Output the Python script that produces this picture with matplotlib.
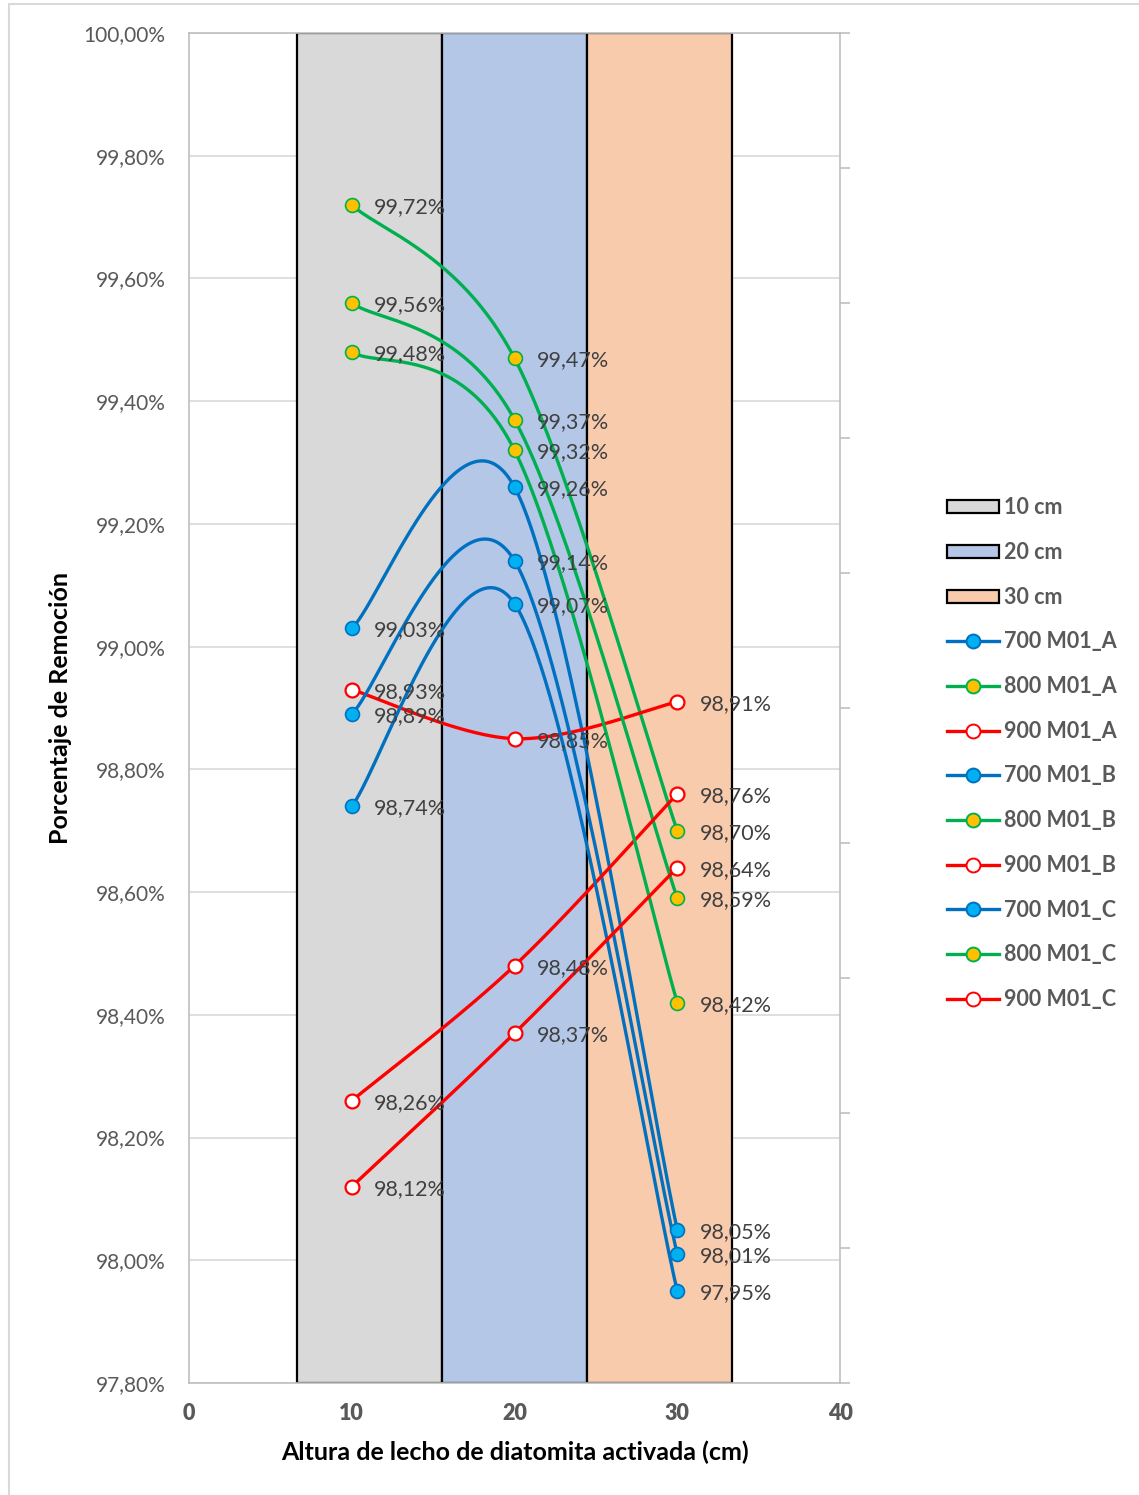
import numpy as np
import matplotlib.pyplot as plt
from matplotlib.patches import Patch, Rectangle
from matplotlib.lines import Line2D
from matplotlib.ticker import FuncFormatter, MultipleLocator

plt.rcParams['font.family'] = ['Lato', 'DejaVu Sans']

# bed heights (cm) and removal percentages per sample
altura = [10, 20, 30]
r700_A = [99.03, 99.26, 98.05]
r800_A = [99.72, 99.47, 98.70]
r900_A = [98.93, 98.85, 98.91]
r700_B = [98.89, 99.14, 98.01]
r800_B = [99.56, 99.37, 98.59]
r900_B = [98.26, 98.48, 98.76]
r700_C = [98.74, 99.07, 97.95]
r800_C = [99.48, 99.32, 98.42]
r900_C = [98.12, 98.37, 98.64]

# background columns (secondary axis, full height)
lechos = ['10 cm', '20 cm', '30 cm']
lechos_val = [1, 1, 1]
lechos_col = ['#D9D9D9', '#B4C7E7', '#F8CBAD']

x_ticks = [0, 10, 20, 30, 40]

series = [
    ('700 M01_A', r700_A, '#0070C0', '#00B0F0'),
    ('800 M01_A', r800_A, '#00B050', '#FFC000'),
    ('900 M01_A', r900_A, '#FF0000', 'white'),
    ('700 M01_B', r700_B, '#0070C0', '#00B0F0'),
    ('800 M01_B', r800_B, '#00B050', '#FFC000'),
    ('900 M01_B', r900_B, '#FF0000', 'white'),
    ('700 M01_C', r700_C, '#0070C0', '#00B0F0'),
    ('800 M01_C', r800_C, '#00B050', '#FFC000'),
    ('900 M01_C', r900_C, '#FF0000', 'white'),
]


def smooth(x, y, n=80):
    # cubic bezier through the points, tangents like a catmull-rom spline
    pts = np.column_stack([x, y]).astype(float)
    ext = np.vstack([pts[0], pts, pts[-1]])
    out = []
    for i in range(len(pts) - 1):
        p0, p1 = pts[i], pts[i + 1]
        c1 = p0 + (ext[i + 2] - ext[i]) / 6
        c2 = p1 - (ext[i + 3] - ext[i + 1]) / 6
        t = np.linspace(0, 1, n)[:, None]
        seg = (1 - t)**3 * p0 + 3 * (1 - t)**2 * t * c1 + 3 * (1 - t) * t**2 * c2 + t**3 * p1
        out.append(seg if i == 0 else seg[1:])
    return np.vstack(out)


fig = plt.figure(figsize=(11.39, 14.95), dpi=100)
ax = fig.add_axes([189 / 1139, 1 - 1383 / 1495, 651 / 1139, 1350 / 1495])

# light frame round the chart area
fig.patches.append(Rectangle((9 / 1139, -0.05), 1.0, 1 - 4 / 1495 + 0.05,
                             transform=fig.transFigure, fill=False,
                             edgecolor='#D9D9D9', lw=1.5))

ax.set_xlim(0, 40)
ax.set_ylim(97.8, 100.0)
ax.yaxis.set_major_locator(MultipleLocator(0.2))
ax.yaxis.set_major_formatter(FuncFormatter(lambda v, p: f'{v:.2f}%'.replace('.', ',')))
ax.set_xticks(x_ticks)
ax.grid(axis='y', color='#D9D9D9', lw=1.2)
ax.set_axisbelow(True)

bar_w = 8.9
bar_x = 20 + (np.arange(len(lechos)) - 1) * bar_w
ax.bar(bar_x, lechos_val, width=bar_w, color=lechos_col, edgecolor='black',
       lw=1.6, transform=ax.get_xaxis_transform(), zorder=1)

for name, vals, lc, fc in series:
    cur = smooth(altura, vals)
    ax.plot(cur[:, 0], cur[:, 1], color=lc, lw=2.4, zorder=3, solid_capstyle='round')
    ax.plot(altura, vals, ls='none', marker='o', ms=10, mfc=fc, mec=lc,
            mew=1.6 if fc == 'white' else 1.2, zorder=4)
    for xv, yv in zip(altura, vals):
        ax.annotate(f'{yv:.2f}%'.replace('.', ','), (xv, yv), xytext=(16, -1.5),
                    textcoords='offset points', va='center', ha='left',
                    fontsize=15.5, color='#404040', zorder=5)

for s in ['left', 'bottom', 'top', 'right']:
    ax.spines[s].set_color('#BFBFBF')
    ax.spines[s].set_linewidth(1.2)
ax.tick_params(axis='y', length=0, pad=17, labelsize=15, labelcolor='#595959')
ax.tick_params(axis='x', length=0, labelbottom=False)

# bold x tick labels
for v in x_ticks:
    ax.text(v, -31 / 1350, str(v), transform=ax.get_xaxis_transform(),
            ha='center', va='center', fontsize=15.5, fontweight='heavy',
            color='#595959')

# secondary axis of the columns: ticks only
ax2 = ax.twinx()
ax2.set_ylim(0, 1)
ax2.yaxis.set_major_locator(MultipleLocator(0.1))
ax2.tick_params(axis='y', direction='out', length=7, width=1.2, color='#BFBFBF',
                labelright=False)
for s in ax2.spines.values():
    s.set_visible(False)

ax.set_xlabel('Altura de lecho de diatomita activada (cm)', fontsize=18,
              fontweight='bold', color='black')
ax.xaxis.set_label_coords(0.5, -(1441 - 1383) / 1350)
ax.set_ylabel('Porcentaje de Remoción', fontsize=18, fontweight='bold',
              color='black')
ax.yaxis.set_label_coords(-(189 - 72) / 651, 0.5)

handles = [Patch(facecolor=c, edgecolor='black', lw=1.6) for c in lechos_col]
for name, vals, lc, fc in series:
    handles.append(Line2D([], [], color=lc, lw=2.4, marker='o', ms=10, mfc=fc,
                          mec=lc, mew=1.4))
labels = lechos + [s[0] for s in series]
leg = fig.legend(handles, labels, loc='upper left',
                 bbox_to_anchor=(928 / 1139, 1 - 478 / 1495), frameon=False,
                 prop={'size': 15.5, 'weight': 'bold'}, labelcolor='#595959',
                 handlelength=2.4, handletextpad=0.25, labelspacing=1.1,
                 handleheight=0.55)

fig.savefig('out.png', dpi=100)
